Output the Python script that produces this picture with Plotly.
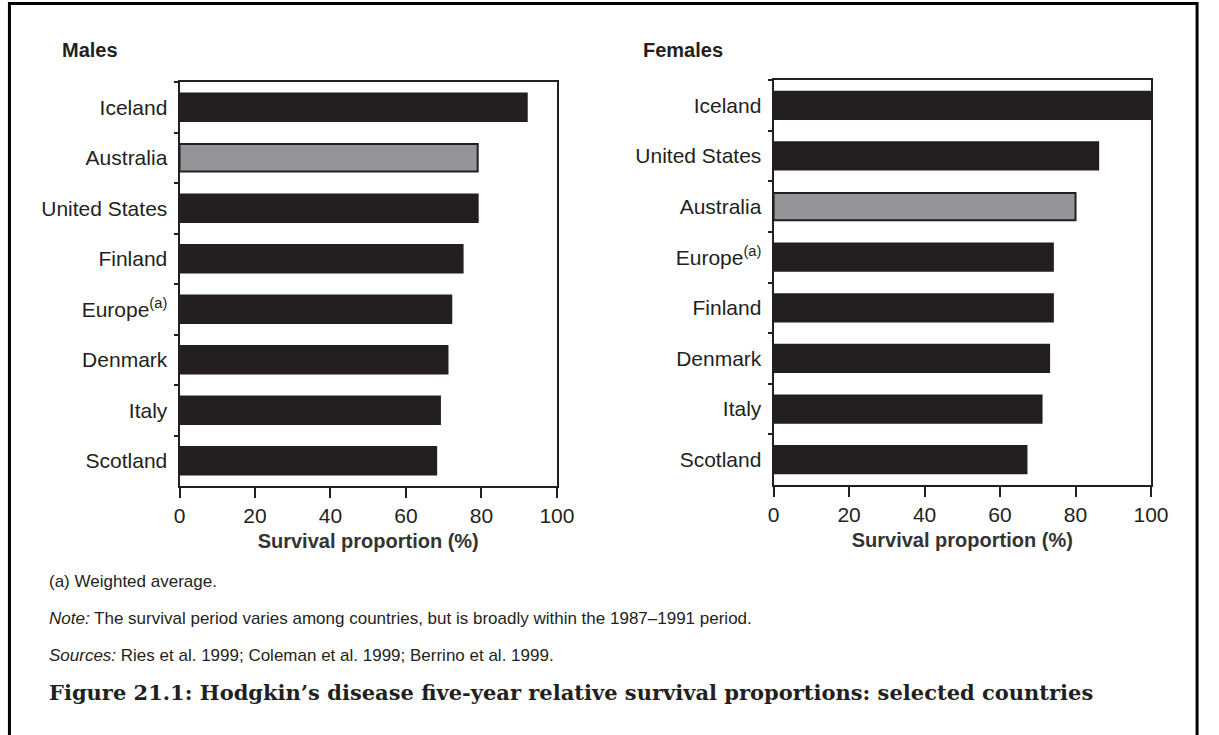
import plotly.graph_objects as go

# ---- data ----
male_countries = ["Iceland", "Australia", "United States", "Finland", "Europe<sup>(a)</sup>", "Denmark", "Italy", "Scotland"]
male_values = [92, 79, 79, 75, 72, 71, 69, 68]
female_countries = ["Iceland", "United States", "Australia", "Europe<sup>(a)</sup>", "Finland", "Denmark", "Italy", "Scotland"]
female_values = [100, 86, 80, 74, 74, 73, 71, 67]
x_ticks = [0, 20, 40, 60, 80, 100]
highlight = "Australia"

W, H = 1219, 735
DARK = "#231f20"
GREY = "#939598"
SANS = "Liberation Sans, Arial, sans-serif"


def px(x):
    return x / W


def py(y):
    return 1 - y / H


def colors(cats):
    return [GREY if c == highlight else DARK for c in cats]


fig = go.Figure()
fig.add_trace(go.Bar(
    x=male_values, y=male_countries, orientation="h", xaxis="x", yaxis="y",
    marker=dict(color=colors(male_countries), line=dict(color=DARK, width=2)),
    width=0.54, showlegend=False, hoverinfo="skip"))
fig.add_trace(go.Bar(
    x=female_values, y=female_countries, orientation="h", xaxis="x2", yaxis="y2",
    marker=dict(color=colors(female_countries), line=dict(color=DARK, width=2)),
    width=0.54, showlegend=False, hoverinfo="skip", cliponaxis=True))

xcommon = dict(range=[0, 100], tickvals=x_ticks, ticks="outside", ticklen=10, tickwidth=2,
               tickcolor=DARK, showline=True, linewidth=2, linecolor=DARK, mirror=True,
               showgrid=False, zeroline=False, fixedrange=True,
               tickfont=dict(family=SANS, size=21, color=DARK),
               title=dict(text="<b>Survival proportion (%)</b>", standoff=8,
                          font=dict(family=SANS, size=20, color="#333333")))
ycommon = dict(ticks="outside", ticklen=4, tickwidth=2, tickcolor=DARK, tickson="boundaries",
               showline=True, linewidth=2, linecolor=DARK, mirror=True, showgrid=False,
               zeroline=False, autorange="reversed", fixedrange=True, ticklabelstandoff=6,
               tickfont=dict(family=SANS, size=21, color=DARK))

fig.update_layout(
    width=W, height=H, margin=dict(l=0, r=0, t=0, b=0),
    paper_bgcolor="white", plot_bgcolor="white",
    xaxis=dict(domain=[px(177), px(562)], anchor="y", **xcommon),
    yaxis=dict(domain=[py(486), py(82)], anchor="x", categoryorder="array",
               categoryarray=male_countries, **ycommon),
    xaxis2=dict(domain=[px(783), px(1168)], anchor="y2", **xcommon),
    yaxis2=dict(domain=[py(485), py(80)], anchor="x2", categoryorder="array",
                categoryarray=female_countries, **ycommon),
)

ann = [
    dict(text="<b>Males</b>", x=px(55), y=py(50), size=20, fam=SANS),
    dict(text="<b>Females</b>", x=px(648), y=py(50), size=20, fam=SANS),
    dict(text="(a) Weighted average.", x=px(42), y=py(581), size=17, fam=SANS),
    dict(text="<i>Note:</i> The survival period varies among countries, but is broadly within the 1987\u20131991 period.",
         x=px(42), y=py(618), size=17, fam=SANS),
    dict(text="<i>Sources:</i> Ries et al. 1999; Coleman et al. 1999; Berrino et al. 1999.",
         x=px(42), y=py(655), size=17, fam=SANS),
    dict(text="<b>Figure 21.1: Hodgkin\u2019s disease five-year relative survival proportions: selected countries</b>",
         x=px(42), y=py(692), size=21, fam="DejaVu Serif, Liberation Serif, serif"),
]
for a in ann:
    fig.add_annotation(text=a["text"], x=a["x"], y=a["y"], xref="paper", yref="paper",
                       xanchor="left", yanchor="middle", showarrow=False,
                       font=dict(family=a["fam"], size=a["size"], color=DARK))

fig.add_shape(type="rect", xref="paper", yref="paper", x0=px(3.5), x1=px(1215), y0=py(760), y1=py(3.5),
              line=dict(color="black", width=3), fillcolor="rgba(0,0,0,0)")

fig.write_html("out.html", config={"displayModeBar": False},
               post_script="document.body.style.margin='0';document.body.style.overflow='hidden';")
